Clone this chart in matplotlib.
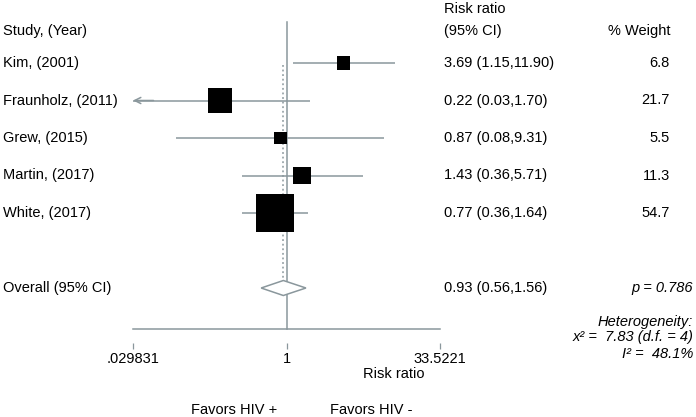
import numpy as np
import matplotlib as mpl
from matplotlib import pyplot as plt
from matplotlib.transforms import blended_transform_factory

# ---------------- data ----------------
studies = ["Kim, (2001)", "Fraunholz, (2011)", "Grew, (2015)",
           "Martin, (2017)", "White, (2017)"]
rr = [3.69, 0.22, 0.87, 1.43, 0.77]
ci_low = [1.15, 0.028, 0.08, 0.36, 0.36]
ci_high = [11.90, 1.70, 9.31, 5.71, 1.64]
weights = [6.8, 21.7, 5.5, 11.3, 54.7]

overall_rr = 0.93
overall_low = 0.56
overall_high = 1.56
overall_p = 0.786
chi2, chi2_df, i2 = 7.83, 4, 48.1

x_min, x_max = 0.029831, 33.5221
x_ticks = [x_min, 1, x_max]
x_ticklabels = [".029831", "1", "33.5221"]

# ---------------- style ----------------
mpl.rcParams.update({
    "font.family": ["Liberation Sans", "DejaVu Sans"],
    "font.size": 10.5,
    "figure.facecolor": "white",
})
W, H = 696, 417
line_grey = "#8a979c"

fig = plt.figure(figsize=(W / 100, H / 100), dpi=100)
# plot region: x from px 133 to 440, y from px 0 to 329 (axis line)
ax = fig.add_axes([133 / W, (H - 329) / H, 307 / W, 329 / H])
ax.set_xscale("log")
ax.set_xlim(x_min, x_max)
# row r sits at pixel 25.5 + 37.5 r
y_top, y_bot = -25.5 / 37.5, (329 - 25.5) / 37.5
ax.set_ylim(y_bot, y_top)

rows = np.arange(1, len(studies) + 1)
overall_row = len(studies) + 2

# null line and overall dotted line
ax.plot([1, 1], [-0.1, y_bot], color=line_grey, lw=1.1, zorder=1, clip_on=False)
ax.plot([overall_rr, overall_rr], [1.05, overall_row + 0.1], color=line_grey,
        lw=1.1, ls=(0, (1.2, 1.8)), zorder=1)

# confidence intervals
for r, lo, hi in zip(rows, ci_low, ci_high):
    lo_c = max(lo, x_min)
    hi_c = min(hi, x_max)
    ax.plot([lo_c, hi_c], [r, r], color=line_grey, lw=1.1, zorder=2,
            solid_capstyle="butt")
    if lo < x_min:
        ax.annotate("", xy=(x_min, r), xytext=(x_min * 1.6, r),
                    arrowprops=dict(arrowstyle="->", color=line_grey, lw=1.1,
                                    mutation_scale=11, shrinkA=0, shrinkB=0))

# weight-scaled squares
ax.scatter(rr, rows, s=np.array(weights) * 14.1, marker="s", color="black",
           linewidths=0, zorder=3)

# overall diamond
dh = 0.2
ax.fill([overall_low, overall_rr, overall_high, overall_rr],
        [overall_row, overall_row - dh, overall_row, overall_row + dh],
        facecolor="white", edgecolor=line_grey, lw=1.1, zorder=3)

# axis
for s in ("top", "right", "left"):
    ax.spines[s].set_visible(False)
ax.spines["bottom"].set_position(("outward", 10))
ax.spines["bottom"].set_visible(False)
ax.axhline(y_bot, color=line_grey, lw=1.1, clip_on=False)
ax.set_yticks([])
ax.set_xticks(x_ticks)
ax.set_xticklabels(x_ticklabels, fontsize=10.5)
ax.minorticks_off()
ax.tick_params(axis="x", direction="out", length=4.5, width=0.9,
               color=line_grey, pad=2)

# ---------------- text columns ----------------
tr = blended_transform_factory(fig.transFigure, ax.transData)


def px(x):
    return x / W


head_row = (31 - 25.5) / 37.5
ax.text(px(3), head_row, "Study, (Year)", transform=tr, ha="left", va="center")
ax.text(px(444), (9 - 25.5) / 37.5, "Risk ratio", transform=tr, ha="left", va="center")
ax.text(px(444), head_row, "(95% CI)", transform=tr, ha="left", va="center")
ax.text(px(670), head_row, "% Weight", transform=tr, ha="right", va="center")

for r, name, est, lo, hi, w in zip(rows, studies, rr, ci_low, ci_high, weights):
    ax.text(px(3), r, name, transform=tr, ha="left", va="center")
    ax.text(px(444), r, f"{est:.2f} ({lo:.2f},{hi:.2f})", transform=tr,
            ha="left", va="center")
    ax.text(px(670), r, f"{w:.1f}", transform=tr, ha="right", va="center")

ax.text(px(3), overall_row, "Overall (95% CI)", transform=tr, ha="left", va="center")
ax.text(px(444), overall_row,
        f"{overall_rr:.2f} ({overall_low:.2f},{overall_high:.2f})",
        transform=tr, ha="left", va="center")
ax.text(px(693), overall_row, f"p = {overall_p:.3f}", transform=tr,
        ha="right", va="center", style="italic")

het = [("Heterogeneity:", 322),
       (f"x\u00b2 =  {chi2:.2f} (d.f. = {chi2_df})", 337),
       (f"I\u00b2 =  {i2:.1f}%", 354)]
for txt, ypx in het:
    fig.text(px(693), 1 - ypx / H, txt, ha="right", va="center", style="italic")

fig.text(px(394), 1 - 374 / H, "Risk ratio", ha="center", va="center")
fig.text(px(234), 1 - 410 / H, "Favors HIV +", ha="center", va="center")
fig.text(px(371), 1 - 410 / H, "Favors HIV -", ha="center", va="center")

fig.savefig("out.png", dpi=100)
